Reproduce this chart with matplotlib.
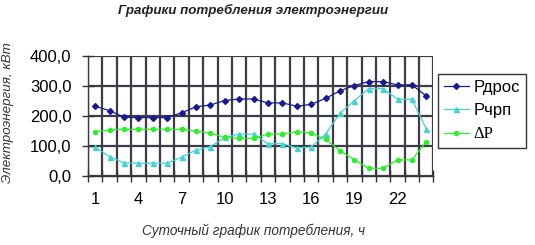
import matplotlib
matplotlib.use("Agg")
import matplotlib.pyplot as plt
from matplotlib.ticker import FixedLocator, FuncFormatter

hours = list(range(1, 25))
p_dros = [231, 216, 194, 193, 193, 193, 209, 229, 235, 250, 255, 255,
          242, 242, 231, 237, 257, 282, 300, 313, 313, 302, 302, 265]
p_chrp = [94, 63, 42, 41, 41, 41, 61, 85, 96, 127, 138, 138,
          106, 106, 92, 95, 138, 207, 249, 290, 290, 254, 254, 155]
delta_p = [146, 152, 154, 154, 154, 154, 154, 148, 141, 127, 124, 124,
           138, 138, 146, 142, 121, 83, 52, 24, 24, 52, 52, 113]
x_tick_labels = [1, 4, 7, 10, 13, 16, 19, 22]
y_ticks = [0, 100, 200, 300, 400]
series_labels = ["Рдрос", "Рчрп", "ΔP"]

plt.rcParams['font.family'] = ['Liberation Sans', 'DejaVu Sans']

W, H = 535, 245
fig = plt.figure(figsize=(W / 100, H / 100), dpi=100)
ax = fig.add_axes([88 / W, 1 - 175.5 / H, (433.5 - 88) / W, 120 / H])

boundaries = [h - 0.5 for h in hours] + [hours[-1] + 0.5]

l1, = ax.plot(hours, p_dros, color='#1a1a90', lw=0.9, marker='D', ms=3,
              label=series_labels[0], zorder=3)
l2, = ax.plot(hours, p_chrp, color='#45D2D2', lw=0.9, marker='^', ms=3.6,
              label=series_labels[1], zorder=3)
l3, = ax.plot(hours, delta_p, color='#2EEE2E', lw=0.9, marker='o', ms=3.0,
              label=series_labels[2], zorder=3)

ax.set_xlim(boundaries[0], boundaries[-1])
ax.set_ylim(y_ticks[0], y_ticks[-1])
ax.set_yticks(y_ticks)
ax.yaxis.set_major_formatter(FuncFormatter(lambda v, p: f"{v:.1f}".replace('.', ',')))
ax.set_xticks(x_tick_labels)
ax.set_xticklabels([str(v) for v in x_tick_labels])
ax.xaxis.set_minor_locator(FixedLocator(boundaries))

ax.tick_params(axis='x', which='major', length=0, pad=12, labelsize=12)
ax.tick_params(axis='x', which='minor', direction='inout', length=8, width=1.0, color='#333333')
ax.tick_params(axis='y', which='major', direction='inout', length=8, width=1.0,
               color='#333333', pad=8, labelsize=12)

ax.grid(True, which='minor', axis='x', color='#3c3c46', linewidth=1.6, alpha=1.0)
ax.grid(True, which='major', axis='y', color='#3c3c46', linewidth=1.6, alpha=1.0)
ax.set_axisbelow(False)
for gl in ax.xaxis.get_gridlines(minor=True) if False else []:
    pass

for s in ['top', 'right']:
    ax.spines[s].set_visible(False)
for s in ['left', 'bottom']:
    ax.spines[s].set_color('#333333')
    ax.spines[s].set_linewidth(1.0)

leg = fig.legend(handles=[l1, l2, l3], loc='upper left',
                 bbox_to_anchor=(437.7 / W, 1 - 74 / H), borderaxespad=0,
                 fancybox=False, edgecolor='#333333', fontsize=12,
                 handlelength=1.5, handletextpad=0.3, labelspacing=0.5,
                 borderpad=0.35, framealpha=1)
leg.get_frame().set_linewidth(1.0)
leg.get_texts()[2].set_family(['Liberation Serif', 'DejaVu Serif'])

fig.text(253 / W, 1 - 10 / H, "Графики потребления электроэнергии",
         ha='center', va='center', fontsize=9.6, fontweight='bold',
         fontstyle='italic', color='#222222')
fig.text(8 / W, 1 - 113 / H, "Электроэнергия, кВт", rotation=90,
         ha='center', va='center', fontsize=9.6, fontstyle='italic', color='#333333')
fig.text(254 / W, 1 - 231 / H, "Суточный график потребления, ч",
         ha='center', va='center', fontsize=9.8, fontstyle='italic', color='#333333')

fig.savefig("out.png", dpi=100)
